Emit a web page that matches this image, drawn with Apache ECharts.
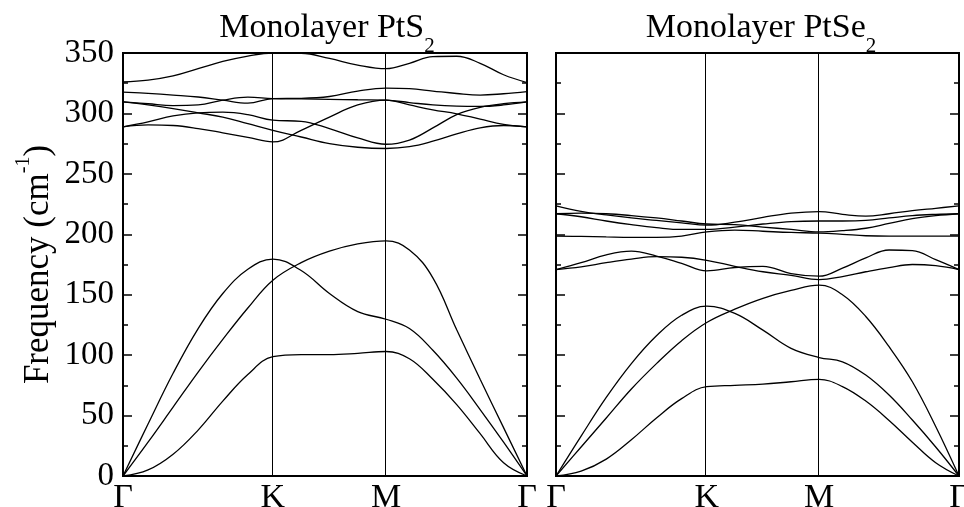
<!DOCTYPE html>
<html>
<head>
<meta charset="utf-8">
<script src="https://cdn.jsdelivr.net/npm/echarts@6/dist/echarts.min.js"></script>
<style>
  html, body { margin: 0; padding: 0; background: #fff; }
  #chart { width: 964px; height: 507px; }
</style>
</head>
<body>
<div id="chart"></div>
<script>
// high-symmetry path
var kLabels = ['Γ', 'K', 'M', 'Γ'];
var ptsTicks = [0, 0.371, 0.651, 1];
var pseTicks = [0, 0.374, 0.653, 1];

// sample positions along the path (fraction of the panel width)
var ptsX = [0, 0.062, 0.124, 0.186, 0.247, 0.309, 0.371, 0.441, 0.511, 0.581, 0.651, 0.709, 0.767, 0.826, 0.884, 0.942, 1];
var pseX = [0, 0.0623, 0.1247, 0.187, 0.2493, 0.3117, 0.374, 0.4438, 0.5135, 0.5833, 0.653, 0.7108, 0.7687, 0.8265, 0.8843, 0.9422, 1];

// Monolayer PtS2 bands (cm-1)
var ptsZA = [0, 5, 18, 38, 62, 84, 98.7, 100.5, 100.5, 101.5, 103, 97, 80, 59, 35, 11, 0];
var ptsTA = [0, 43, 85, 122, 151, 171, 179.5, 170, 151, 136, 129.7, 122, 104, 81, 55, 28, 0];
var ptsLA = [0, 28, 57, 86, 113, 139, 162, 176.5, 186, 192, 194.6, 187, 164, 121, 80, 40, 0];
var ptsO1 = [288.9, 290.5, 290, 287.5, 284, 280.2, 276.4, 286, 297, 307, 311, 307, 303, 299.7, 295.3, 291, 288.9];
var ptsO2 = [288.9, 293, 298, 300.5, 301, 299, 294.4, 293.5, 287.5, 279.8, 274.5, 278, 288, 299, 305, 308, 309.5];
var ptsO3 = [309.5, 307, 304, 300.5, 297, 291.5, 286, 280.5, 275, 272, 271, 272.5, 277, 283, 288, 290, 288.9];
var ptsO4 = [309.5, 308, 306.5, 307, 311, 313.5, 312.3, 312, 311.7, 311.3, 311, 309, 307, 306, 305.8, 307, 309.5];
var ptsO5 = [317.7, 316.6, 315.2, 313.6, 311, 308.5, 312.3, 312.5, 314, 318.5, 321, 320.5, 318.5, 316.5, 315.2, 316.3, 318];
var ptsO6 = [326, 327.5, 331, 337, 343, 347.5, 350, 349.8, 345.5, 340, 337, 341.5, 347, 347.3, 341.5, 332, 325.5];

// Monolayer PtSe2 bands (cm-1)
var pseZA = [0, 4, 14, 30, 48, 64, 73.9, 75, 76, 78, 79.9, 74, 62, 46, 28, 11, 0];
var pseTA = [0, 33, 65, 93, 116, 133, 140.5, 134.5, 120.7, 105.6, 98, 94.5, 83.5, 67, 46.3, 24, 0];
var pseLA = [0, 24, 48, 72, 93, 112, 127, 138, 147, 153.5, 158, 150, 132, 107, 78, 41, 0];
var pseO1 = [170.8, 176.5, 183, 186, 182, 176, 169.7, 172.5, 173.5, 167.5, 165.3, 172, 180.5, 187, 186.5, 179, 170.8];
var pseO2 = [170.8, 173, 176.5, 179.5, 181.5, 181, 178.5, 173.5, 169, 166, 162.5, 165, 169, 172.5, 175, 174, 170.8];
var pseO3 = [198.4, 198.2, 197.8, 197.5, 197.5, 198.5, 202, 203.5, 202.5, 201.5, 201, 200, 198.8, 198.4, 198.4, 198.4, 198.4];
var pseO4 = [217, 214.5, 211, 208, 205.5, 204, 204, 206, 208.5, 210.5, 211, 211, 211.5, 213.5, 215.5, 216.5, 217];
var pseO5 = [217, 217.5, 217, 215.5, 213.5, 211, 208.5, 208, 206, 204, 202, 203, 205, 209, 213, 215.5, 217];
var pseO6 = [223.5, 219, 216, 213.5, 211.5, 209.5, 207.5, 210, 214, 217.5, 218.8, 216.5, 215, 217, 219.5, 221.5, 223.5];

var ptsBands = [ptsZA, ptsTA, ptsLA, ptsO1, ptsO2, ptsO3, ptsO4, ptsO5, ptsO6];
var pseBands = [pseZA, pseTA, pseLA, pseO1, pseO2, pseO3, pseO4, pseO5, pseO6];

var serif = 'Liberation Serif';
var chart = echarts.init(document.getElementById('chart'), null, { renderer: 'canvas' });

function bandSeries(xs, bands, ticks, idx) {
  return bands.map(function (b, n) {
    var s = {
      type: 'line',
      xAxisIndex: idx,
      yAxisIndex: idx * 2,
      data: b.map(function (v, i) { return [xs[i], v]; }),
      showSymbol: false,
      smooth: 0.4,
      silent: true,
      lineStyle: { color: '#000', width: 1.3 },
      z: 3
    };
    if (n === 0) {
      // vertical lines at K and M
      s.markLine = {
        symbol: 'none',
        silent: true,
        label: { show: false },
        lineStyle: { color: '#000', width: 1, type: 'solid' },
        data: [{ xAxis: ticks[1] }, { xAxis: ticks[2] }]
      };
    }
    return s;
  });
}

function xAxisFor(idx, ticks) {
  return {
    type: 'value', gridIndex: idx, min: 0, max: 1,
    axisLine: { show: false },
    axisTick: { show: false },
    splitLine: { show: false },
    axisLabel: {
      customValues: ticks,
      showMinLabel: true, showMaxLabel: true,
      margin: 5,
      color: '#000', fontFamily: serif, fontSize: 34,
      formatter: function (v) {
        for (var i = 0; i < ticks.length; i++) {
          if (Math.abs(ticks[i] - v) < 1e-6) return kLabels[i];
        }
        return '';
      }
    }
  };
}

function yAxisFor(idx, pos, labels) {
  var ax = {
    type: 'value', gridIndex: idx, position: pos,
    min: 0, max: 350, interval: 50,
    axisLine: { show: false },
    splitLine: { show: false },
    axisTick: { inside: true, length: 9, lineStyle: { color: '#000', width: 1.5 } },
    minorTick: { show: true, splitNumber: 2, length: 5, lineStyle: { color: '#000', width: 1.5 } },
    axisLabel: { show: labels, color: '#000', fontFamily: serif, fontSize: 33, margin: 9 }
  };
  if (labels) {
    ax.name = '{a|Frequency (cm}{b|-1}{a|)}';
    ax.nameLocation = 'middle';
    ax.nameGap = 59;
    ax.nameTextStyle = {
      rich: {
        a: { fontFamily: serif, fontSize: 35, color: '#000' },
        b: { fontFamily: serif, fontSize: 20, color: '#000', padding: [0, 0, 30, 0] }
      }
    };
  }
  return ax;
}

function titleFor(text, sub, cx) {
  return {
    text: '{m|' + text + '}{s|' + sub + '}',
    left: cx, top: 0, textAlign: 'center', padding: 0,
    textStyle: {
      fontWeight: 'normal',
      rich: {
        m: { fontFamily: serif, fontSize: 34, fontWeight: 'normal', color: '#000' },
        s: { fontFamily: serif, fontSize: 21, fontWeight: 'normal', color: '#000', padding: [36, 0, 0, 0] }
      }
    }
  };
}

var option = {
  animation: false,
  backgroundColor: '#fff',
  title: [
    titleFor('Monolayer PtS', '2', 327),
    titleFor('Monolayer PtSe', '2', 761)
  ],
  grid: [
    { left: 123, top: 53, width: 404, height: 423, containLabel: false, outerBoundsMode: 'none',
      show: true, borderColor: '#000', borderWidth: 2, z: 4 },
    { left: 556, top: 53, width: 403, height: 423, containLabel: false, outerBoundsMode: 'none',
      show: true, borderColor: '#000', borderWidth: 2, z: 4 }
  ],
  xAxis: [xAxisFor(0, ptsTicks), xAxisFor(1, pseTicks)],
  yAxis: [
    yAxisFor(0, 'left', true), yAxisFor(0, 'right', false),
    yAxisFor(1, 'left', false), yAxisFor(1, 'right', false)
  ],
  series: bandSeries(ptsX, ptsBands, ptsTicks, 0).concat(bandSeries(pseX, pseBands, pseTicks, 1))
};
chart.setOption(option);
</script>
</body>
</html>
